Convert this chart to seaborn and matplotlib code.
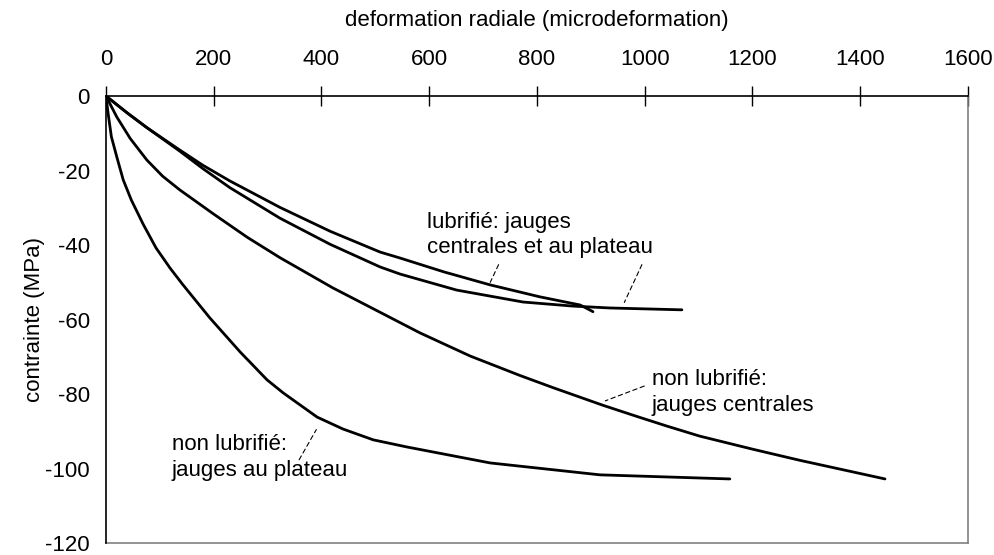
import numpy as np
import pandas as pd
import seaborn as sns
import matplotlib.pyplot as plt

# courbes (deformation radiale en microdeformation, contrainte en MPa)
nl_plateau_x = [0, 4, 10, 20, 32, 47, 69, 93, 119, 143, 193, 249, 299, 329, 392, 440, 496,
                558, 713, 917, 1158]
nl_plateau_y = [0, -4.7, -10.9, -16.3, -22.5, -27.9, -34.4, -40.8, -46.2, -50.7, -59.6,
                -68.7, -76.2, -79.7, -86.2, -89.4, -92.3, -94.2, -98.5, -101.7, -102.8]

nl_centrale_x = [0, 20, 45, 76, 105, 137, 199, 262, 323, 421, 583, 676, 768, 830, 922, 985,
                 1041, 1102, 1200, 1288, 1446]
nl_centrale_y = [0, -5.6, -11.4, -17.2, -21.5, -25.2, -31.6, -37.9, -43.4, -51.5, -63.6,
                 -69.8, -75, -78.3, -83, -86, -88.6, -91.3, -94.8, -97.8, -102.8]

lub_centrale_x = [0, 40, 76, 137, 180, 230, 323, 416, 509, 546, 627, 713, 805, 880, 895, 904]
lub_centrale_y = [0, -4.6, -8.5, -14.5, -18.6, -22.8, -29.9, -36.3, -41.9, -43.5, -47.2,
                  -50.7, -53.9, -56.1, -57.2, -57.9]

lub_plateau_x = [0, 40, 76, 137, 180, 230, 323, 416, 509, 546, 651, 774, 867, 935, 1069]
lub_plateau_y = [0, -4.6, -8.5, -14.8, -19.5, -24.6, -32.8, -39.8, -45.9, -47.8, -52.1,
                 -55.3, -56.4, -56.9, -57.4]

x_ticks = [0, 200, 400, 600, 800, 1000, 1200, 1400, 1600]
y_ticks = [0, -20, -40, -60, -80, -100, -120]

series = {
    'nl_plateau': (nl_plateau_x, nl_plateau_y),
    'nl_centrale': (nl_centrale_x, nl_centrale_y),
    'lub_centrale': (lub_centrale_x, lub_centrale_y),
    'lub_plateau': (lub_plateau_x, lub_plateau_y),
}
frames = []
for name, (xs, ys) in series.items():
    frames.append(pd.DataFrame({'x': xs, 'y': ys, 'serie': name}))
df = pd.concat(frames, ignore_index=True)

sns.set_style('white')
plt.rcParams['font.family'] = ['Liberation Sans', 'DejaVu Sans']
plt.rcParams['axes.unicode_minus'] = False
plt.rcParams['text.color'] = 'black'
plt.rcParams['axes.labelcolor'] = 'black'
plt.rcParams['xtick.color'] = 'black'
plt.rcParams['ytick.color'] = 'black'

fig = plt.figure(figsize=(9.95, 5.55), dpi=100)
ax = fig.add_axes([0.1065, 0.0216, 0.8663, 0.8054])

sns.lineplot(data=df, x='x', y='y', units='serie', estimator=None, sort=False,
             color='black', linewidth=2.0, ax=ax)

ax.set_xlim(0, 1600)
ax.set_ylim(-120, 0)
ax.xaxis.tick_top()
ax.xaxis.set_label_position('top')
ax.set_xticks(x_ticks)
ax.set_yticks(y_ticks)
ax.tick_params(axis='both', direction='inout', length=15, width=1, color='black',
               labelcolor='black', labelsize=16)
ax.tick_params(axis='x', pad=11)
ax.tick_params(axis='y', pad=4)
ax.set_xlabel('deformation radiale (microdeformation)', fontsize=16, labelpad=17,
              color='black')
ax.set_ylabel('contrainte (MPa)', fontsize=16, labelpad=0, color='black')

for side in ['top', 'left']:
    ax.spines[side].set_color('black')
    ax.spines[side].set_linewidth(1.2)
for side in ['bottom', 'right']:
    ax.spines[side].set_color('#808080')
    ax.spines[side].set_linewidth(1.2)
ax.spines['top'].set_zorder(5)
ax.spines['left'].set_zorder(5)

# etiquettes et traits de rappel
lead = dict(arrowstyle='-', linestyle=(0, (4, 3)), linewidth=0.8, color='black')
ax.text(596, -37.3, 'lubrifié: jauges\ncentrales et au plateau', fontsize=16,
        ha='left', va='center', linespacing=1.3, color='black')
ax.annotate('', xy=(711, -50.7), xytext=(731, -44.6), arrowprops=lead)
ax.annotate('', xy=(960, -56.1), xytext=(997, -44.6), arrowprops=lead)

ax.text(1013, -79.6, 'non lubrifié:\njauges centrales', fontsize=16,
        ha='left', va='center', linespacing=1.3, color='black')
ax.annotate('', xy=(922, -82.1), xytext=(1004, -77.6), arrowprops=lead)

ax.text(122, -97, 'non lubrifié:\njauges au plateau', fontsize=16,
        ha='left', va='center', linespacing=1.3, color='black')
ax.annotate('', xy=(393, -88.9), xytext=(356, -98.3), arrowprops=lead)

plt.savefig('out.png', dpi=100)
